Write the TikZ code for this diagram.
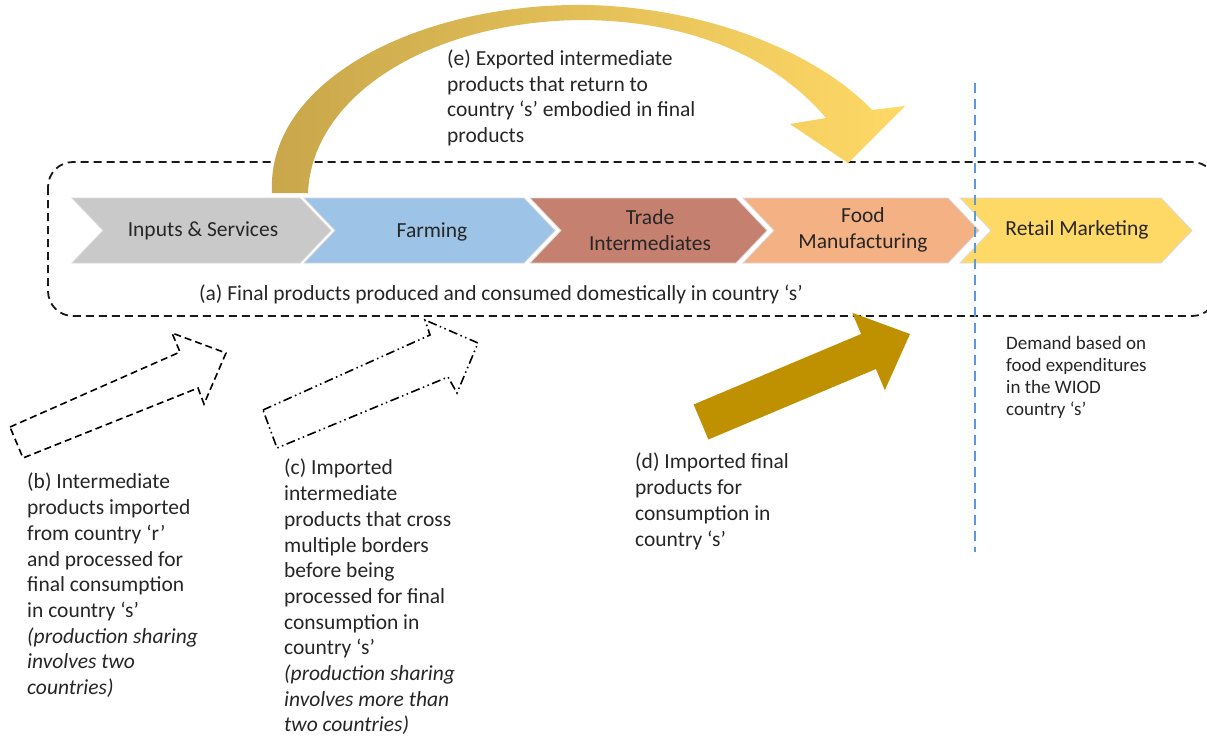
\documentclass[tikz,border=0pt]{standalone}
\usepackage{fontspec}
\setmainfont{Carlito}
\definecolor{txt}{HTML}{262626}
\definecolor{cgray}{HTML}{C9C9C9}
\definecolor{cblue}{HTML}{9DC3E6}
\definecolor{cbrown}{HTML}{C5806F}
\definecolor{csalmon}{HTML}{F4B183}
\definecolor{cyellow}{HTML}{FFD966}
\definecolor{dgold}{HTML}{BF9000}
\definecolor{arcL}{HTML}{C8A64A}
\definecolor{arcR}{HTML}{FFD966}
\definecolor{vblue}{HTML}{5B9BD5}
\begin{document}
\begin{tikzpicture}[x=1pt,y=-1pt,
  chev/.style={draw=black!15, line width=0.8pt, line join=miter},
  lbl/.style={font=\fontsize{21.5}{25.7}\selectfont, text=txt, inner sep=0pt},
  body/.style={lbl, align=left, anchor=north west},
  small/.style={font=\fontsize{19}{22}\selectfont, text=txt, inner sep=0pt, align=left, anchor=north west},
  frame/.style={draw=black!90, line width=1.8pt, dash pattern=on 8pt off 5pt, rounded corners=25pt},
  hollowb/.style={draw=black, line width=1.6pt, dash pattern=on 7pt off 4pt, line join=miter},
  hollowc/.style={draw=black, line width=1.6pt, dash pattern=on 9pt off 3.5pt on 1.5pt off 3.5pt on 1.5pt off 3.5pt, line join=miter},
  vline/.style={draw=vblue, line width=2.5pt, dash pattern=on 10pt off 6pt}]
\clip (0,0) rectangle (1207,737);
\fill[white] (0,0) rectangle (1207,737);

% dashed frame (a)
\draw[frame] (48,162) rectangle (1217,316);

% chevrons
\path[chev, fill=cgray]   (72,198) -- (300,198) -- (331,230.5) -- (300,263) -- (72,263) -- (103,230.5) -- cycle;
\path[chev, fill=cblue]   (304,198) -- (524,198) -- (555,230.5) -- (524,263) -- (304,263) -- (335,230.5) -- cycle;
\path[chev, fill=cbrown]  (530,198) -- (736,198) -- (767,230.5) -- (736,263) -- (530,263) -- (561,230.5) -- cycle;
\path[chev, fill=csalmon] (743,198) -- (948,198) -- (979,230.5) -- (948,263) -- (743,263) -- (774,230.5) -- cycle;
\path[chev, fill=cyellow] (960,198) -- (1161,198) -- (1192,230.5) -- (1161,263) -- (960,263) -- (991,230.5) -- cycle;

\node[lbl, align=center] (inp)  at (203,231) {Inputs \& Services};
\node[lbl, align=center] (farm) at (432,232) {Farming};
\node[lbl, align=center] (trade) at (650,230) {Trade\\Intermediates};
\node[lbl, align=center] (food) at (863,230) {Food\\Manufacturing};
\node[lbl, align=center] (ret)  at (1077,230) {Retail Marketing};

\node[lbl] (la) at (501,294) {(a) Final products produced and consumed domestically in country ‘s’};

% vertical blue line
\coordinate (vt) at (975,83);
\coordinate (vb) at (975,552);
\draw[vline] (vt) -- (vb);

% curved arrow (e)
\path[left color=arcL, right color=arcR]
  (272,193) .. controls (266,80) and (420,3) .. (585,5)
  .. controls (710,7) and (820,55) .. (872,110)
  -- (905,106) -- (848,163) -- (790,124) -- (826,118)
  .. controls (770,52) and (680,20) .. (580,20)
  .. controls (430,22) and (312,95) .. (308,193) -- cycle;

% arrow (d)
\fill[dgold] (693.6,404.5) -- (861.1,334.0) -- (852.2,312.8) -- (910,334) -- (884.8,390.2) -- (875.9,369.0) -- (708.4,439.5) -- cycle;

% arrow (b)
\draw[hollowb] (10,427) -- (180,352) -- (172,333) -- (226,353) -- (204,404) -- (198,388) -- (23,458) -- cycle;

% arrow (c)
\draw[hollowc] (263,410) -- (430,335) -- (425,320) -- (478,343) -- (457,393) -- (448,377) -- (277,448) -- cycle;

% texts
\node[body] (te) at (447,49.5) {(e) Exported intermediate\\products that return to\\country ‘s’ embodied in final\\products};
\node[body] (tb) at (27,473) {(b) Intermediate\\products imported\\from country ‘r’\\and processed for\\final consumption\\in country ‘s’\\\textit{(production sharing}\\\textit{involves two}\\\textit{countries)}};
\node[body] (tc) at (284,459) {(c) Imported\\intermediate\\products that cross\\multiple borders\\before being\\processed for final\\consumption in\\country ‘s’\\\textit{(production sharing}\\\textit{involves more than}\\\textit{two countries)}};
\node[body] (td) at (635,453) {(d) Imported final\\products for\\consumption in\\country ‘s’};
\node[small] (tdem) at (1006,336) {Demand based on\\food expenditures\\in the WIOD\\country ‘s’};
\end{tikzpicture}
\end{document}
